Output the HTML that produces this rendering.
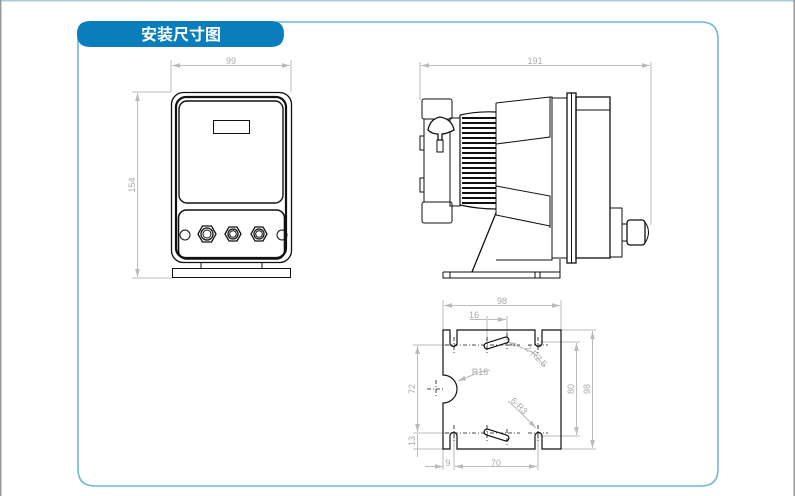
<!DOCTYPE html>
<html><head><meta charset="utf-8"><style>
html,body{margin:0;padding:0;background:#fff;}
svg{display:block;}
text{font-family:"Liberation Sans","Noto Sans CJK SC",sans-serif;}
</style></head><body>
<svg width="795" height="496" viewBox="0 0 795 496" xmlns="http://www.w3.org/2000/svg">
<defs>
<marker id="a" viewBox="0 0 10 6" refX="10" refY="3" markerWidth="8" markerHeight="5" orient="auto-start-reverse"><path d="M0,0 L10,3 L0,6z" fill="#bbb"/></marker>
</defs>
<rect x="0" y="0" width="795" height="1.5" fill="#a9c9dc"/>
<rect x="0" y="0" width="1.5" height="496" fill="#999"/>
<rect x="793.5" y="0" width="1.5" height="496" fill="#999"/>
<path d="M78,30 L78,469 Q78,486 95,486 L701,486 Q718,486 718,469 L718,39 Q718,22 701,22 L90,22" fill="none" stroke="#6fb8dc" stroke-width="1.6"/>
<path d="M90,21 L271,21 Q284,21 284,34 Q284,47 271,47 L90,47 Q77,47 77,34 Q77,21 90,21z" fill="#0a7dbd"/>
<text x="181" y="40" font-size="16" font-weight="bold" fill="#fff" text-anchor="middle">安装尺寸图</text>

<g fill="none" stroke="#bbb" stroke-width="1">
<line x1="171" y1="60" x2="171" y2="92"/><line x1="291" y1="60" x2="291" y2="92"/>
<line x1="172" y1="65.5" x2="290" y2="65.5" marker-start="url(#a)" marker-end="url(#a)"/>
<line x1="132" y1="92" x2="171" y2="92"/><line x1="132" y1="278" x2="172" y2="278"/>
<line x1="137.5" y1="93" x2="137.5" y2="277" marker-start="url(#a)" marker-end="url(#a)"/>
<line x1="420" y1="62" x2="420" y2="100"/><line x1="651" y1="62" x2="651" y2="225"/>
<line x1="421" y1="65.5" x2="650" y2="65.5" marker-start="url(#a)" marker-end="url(#a)"/>
<line x1="443" y1="300" x2="443" y2="330"/><line x1="561" y1="300" x2="561" y2="330"/>
<line x1="444" y1="305.5" x2="560" y2="305.5" marker-start="url(#a)" marker-end="url(#a)"/>
<line x1="487" y1="316" x2="487" y2="345"/><line x1="507" y1="316" x2="507" y2="345"/>
<line x1="470" y1="319.5" x2="487" y2="319.5"/>
<line x1="488" y1="319.5" x2="506" y2="319.5" marker-end="url(#a)"/>
<line x1="561" y1="330" x2="596" y2="330"/><line x1="561" y1="449" x2="596" y2="449"/>
<line x1="592.5" y1="331" x2="592.5" y2="448" marker-start="url(#a)" marker-end="url(#a)"/>
<line x1="540" y1="342" x2="580" y2="342"/><line x1="540" y1="436" x2="580" y2="436"/>
<line x1="576.5" y1="343" x2="576.5" y2="435" marker-start="url(#a)" marker-end="url(#a)"/>
<line x1="413" y1="345" x2="455" y2="345"/><line x1="413" y1="433" x2="455" y2="433"/><line x1="413" y1="449" x2="443" y2="449"/>
<line x1="417.5" y1="346" x2="417.5" y2="432" marker-start="url(#a)" marker-end="url(#a)"/>
<line x1="417.5" y1="434" x2="417.5" y2="457"/>
<line x1="443" y1="449" x2="443" y2="470"/><line x1="454" y1="433" x2="454" y2="470"/><line x1="538" y1="433" x2="538" y2="470"/>
<line x1="425" y1="466.5" x2="443" y2="466.5" marker-end="url(#a)"/>
<line x1="455" y1="466.5" x2="537" y2="466.5" marker-start="url(#a)" marker-end="url(#a)"/>
<line x1="534" y1="353" x2="508" y2="342" marker-end="url(#a)"/><line x1="534" y1="353" x2="545" y2="367"/>
<line x1="480" y1="372" x2="458" y2="381" marker-end="url(#a)"/><line x1="480" y1="372" x2="490" y2="370"/>
<line x1="518" y1="410" x2="536" y2="428" marker-end="url(#a)"/><line x1="508" y1="401" x2="518" y2="410"/>
</g>
<g font-size="9" fill="#aaa" text-anchor="middle">
<text x="231" y="64">99</text>
<text x="535" y="64">191</text>
<text x="502" y="304">98</text>
<text x="474" y="318">16</text>
<text transform="translate(135,185) rotate(-90)">154</text>
<text transform="translate(590,389) rotate(-90)">98</text>
<text transform="translate(574,389) rotate(-90)">80</text>
<text transform="translate(415,389) rotate(-90)">72</text>
<text transform="translate(415,441) rotate(-90)">13</text>
<text x="448" y="466">9</text>
<text x="496" y="466">70</text>
<text x="480" y="375">R16</text>
<text transform="translate(534,358) rotate(45)">2-R2.5</text>
<text transform="translate(517,408) rotate(45)">6-R3</text>
</g>

<g fill="none" stroke="#111">
<rect x="171.5" y="92.5" width="120" height="170" rx="12" stroke-width="1.3"/>
<rect x="176" y="97" width="110" height="161" rx="10" stroke-width="2.2"/>
<rect x="179" y="101" width="104" height="102" rx="8" stroke-width="1.4"/>
<rect x="213.5" y="120.5" width="36" height="13" stroke-width="1"/>
<rect x="178.5" y="210" width="106" height="49" rx="8" stroke-width="1.6"/>
<circle cx="185" cy="235" r="5" stroke-width="1"/>
<circle cx="282" cy="235" r="5" stroke-width="1"/>
<polygon points="198,234 202.5,226 211.5,226 216,234 211.5,242 202.5,242" stroke-width="1.3"/>
<circle cx="207" cy="234" r="6" stroke-width="1.3"/><circle cx="207" cy="234" r="4" stroke-width="1"/>
<polygon points="225,234 229,227 237,227 241,234 237,241 229,241" stroke-width="1.3"/>
<circle cx="233" cy="234" r="5" stroke-width="1.3"/><circle cx="233" cy="234" r="3.3" stroke-width="1"/>
<polygon points="251,234 255,227 263,227 267,234 263,241 255,241" stroke-width="1.3"/>
<circle cx="259" cy="234" r="5" stroke-width="1.3"/><circle cx="259" cy="234" r="3.3" stroke-width="1"/>
<path d="M201,262 L201,268 M262,262 L262,268" stroke-width="1"/>
<rect x="172.5" y="268.5" width="118" height="9" stroke-width="1"/>
</g>

<g fill="none" stroke="#111" stroke-width="1">
<rect x="422" y="99" width="30" height="20" rx="2"/>
<rect x="422" y="202" width="30" height="21" rx="2"/>
<rect x="424" y="119" width="26" height="83"/>
<rect x="420" y="136" width="4" height="14"/><rect x="420" y="178" width="4" height="14"/>
<rect x="450" y="118" width="10" height="88"/>
<path d="M428,130 Q430,119 440,117 Q452,119 454,130 Q446,134 442,134 L442,140 L438,140 L438,134 Q432,134 428,130z" fill="#fff" stroke-width="1.3"/>
<rect x="437" y="140" width="6" height="12"/>
<path d="M496,103 L550,97 L552,97 L552,260 L496,260"/>
<path d="M496,103 L496,215"/>
<path d="M496,144 L550,137 L550,97"/>
<path d="M496,186 L550,196 L550,228"/>
<path d="M496,215 L550,226"/>
<path d="M552,98 L567,98 M552,258 L567,258"/>
<rect x="567" y="93" width="9" height="170" stroke-width="1.3"/>
<line x1="571.5" y1="93" x2="571.5" y2="263"/>
<rect x="576" y="97" width="34" height="161" stroke-width="1.3"/>
<line x1="576" y1="110" x2="610" y2="110"/>
<rect x="610" y="208" width="12" height="49"/>
<rect x="622" y="224" width="5" height="17"/>
<rect x="627" y="220" width="18" height="25" rx="3" stroke-width="1.3"/>
<path d="M645,222 Q652,232 645,243"/>
<line x1="496" y1="213" x2="472" y2="272" stroke-width="1.3"/>
<path d="M443,272 L560,272 L560,259 M443,272 L443,278 L560,278 L560,272" />
<line x1="450" y1="272" x2="450" y2="278"/><line x1="535" y1="272" x2="535" y2="278"/><line x1="540" y1="272" x2="540" y2="278"/>
</g>
<g stroke="#111" fill="none">
<path d="M460,115 Q478,111 496,112 M460,205 Q478,209 496,209" stroke-width="1.2"/>
<line x1="460" y1="115" x2="460" y2="205" stroke-width="1.2"/>
<g stroke-width="2">
<line x1="462" y1="118" x2="496" y2="118"/><line x1="462" y1="123" x2="496" y2="123"/>
<line x1="462" y1="128" x2="496" y2="128"/><line x1="462" y1="133" x2="496" y2="133"/>
<line x1="462" y1="138" x2="496" y2="138"/><line x1="462" y1="143" x2="496" y2="143"/>
<line x1="462" y1="148" x2="496" y2="148"/><line x1="462" y1="153" x2="496" y2="153"/>
<line x1="462" y1="158" x2="496" y2="158"/><line x1="462" y1="163" x2="496" y2="163"/>
<line x1="462" y1="168" x2="496" y2="168"/><line x1="462" y1="173" x2="496" y2="173"/>
<line x1="462" y1="178" x2="496" y2="178"/><line x1="462" y1="183" x2="496" y2="183"/>
<line x1="462" y1="188" x2="496" y2="188"/><line x1="462" y1="193" x2="496" y2="193"/>
<line x1="462" y1="198" x2="496" y2="198"/><line x1="462" y1="203" x2="496" y2="203"/>
</g>
</g>

<g fill="none" stroke="#111" stroke-width="1.2">
<path d="M443,330 L443,375 A14,14 0 0 1 443,403 L443,449 L450,449 L450,436 A3.5,3.5 0 0 1 457,436 L457,449 L535,449 L535,436 A3.5,3.5 0 0 1 542,436 L542,449 L561,449 L561,330 L542,330 L542,343 A3.5,3.5 0 0 1 535,343 L535,330 L457,330 L457,343 A3.5,3.5 0 0 1 450,343 L450,330 Z"/>
</g>
<g stroke-linecap="round">
<line x1="487" y1="346" x2="506" y2="340" stroke="#111" stroke-width="7"/>
<line x1="487" y1="346" x2="506" y2="340" stroke="#fff" stroke-width="4.6"/>
<line x1="487" y1="432" x2="506" y2="438" stroke="#111" stroke-width="7"/>
<line x1="487" y1="432" x2="506" y2="438" stroke="#fff" stroke-width="4.6"/>
</g>
<g stroke="#111" stroke-width="0.8" stroke-dasharray="4,2,1,2" fill="none">
<line x1="445" y1="345" x2="520" y2="345"/><line x1="445" y1="433" x2="520" y2="433"/>
<line x1="528" y1="345" x2="548" y2="345"/><line x1="528" y1="433" x2="548" y2="433"/>
<line x1="454" y1="337" x2="454" y2="353"/><line x1="538" y1="337" x2="538" y2="353"/>
<line x1="454" y1="425" x2="454" y2="441"/><line x1="538" y1="425" x2="538" y2="441"/>
<line x1="487" y1="337" x2="487" y2="353"/><line x1="507" y1="333" x2="507" y2="349"/>
<line x1="487" y1="425" x2="487" y2="441"/><line x1="507" y1="429" x2="507" y2="445"/>
<line x1="427" y1="389" x2="445" y2="389"/><line x1="436" y1="380" x2="436" y2="398"/>
</g>
</svg>
</body></html>
